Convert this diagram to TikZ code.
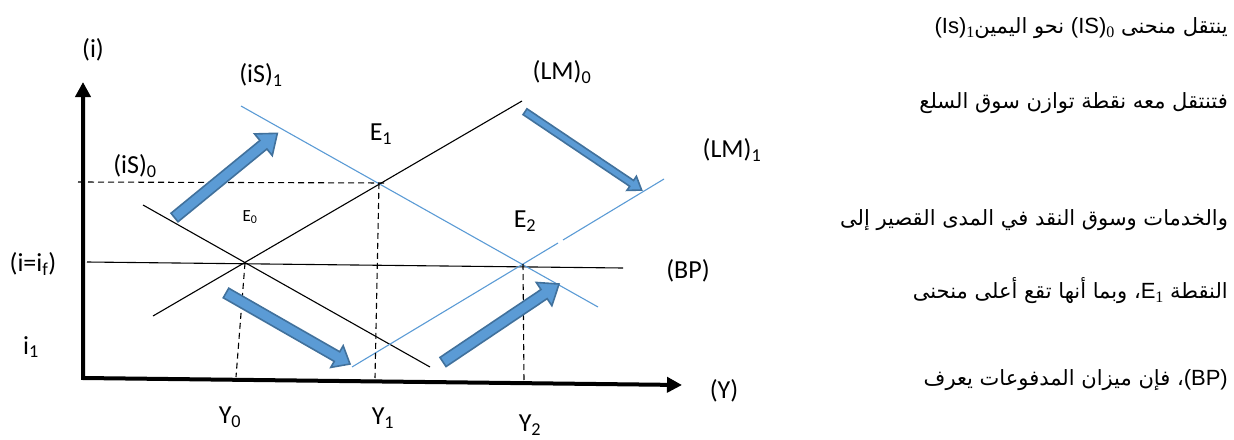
\documentclass[tikz,border=0pt]{standalone}
\usepackage{fontspec}
\setmainfont{Carlito}
\newfontfamily\arabicfont[Script=Arabic]{DejaVu Sans}
\newfontfamily\arlatin{Liberation Sans}
\newfontfamily\arserif{Liberation Serif}
\TeXXeTstate=1
\usetikzlibrary{arrows.meta}
\definecolor{lineblue}{HTML}{5B9BD5}
\definecolor{arrfill}{HTML}{5B9BD5}
\definecolor{arrdraw}{HTML}{41719C}
\newcommand\arsub[1]{\raisebox{-0.35ex}{\arserif\fontsize{16}{16}\selectfont #1}}
\newcommand\arlat[1]{{\arlatin\fontsize{22}{25}\selectfont #1}}
\newcommand\blockarrow[7]{%
  \begin{scope}[shift={(#1,#2)},rotate=#3]
    \draw[barrow] (0,#5) -- ({#4-#7},#5) -- ({#4-#7},#6) -- (#4,0)
      -- ({#4-#7},-#6) -- ({#4-#7},-#5) -- (0,-#5) -- cycle;
  \end{scope}}
\tikzset{
  axis/.style={line width=4pt, line join=miter,
    {Triangle[width=15pt,length=15pt]}-{Triangle[width=15pt,length=15pt]}},
  curve/.style={line width=1.1pt, black},
  bcurve/.style={line width=1.1pt, lineblue},
  guide/.style={line width=1.1pt, dash pattern=on 6pt off 4pt},
  lbl/.style={inner sep=0pt, font=\fontsize{26}{30}\selectfont},
  smalllbl/.style={inner sep=0pt, font=\fontsize{17}{20}\selectfont},
  arab/.style={inner sep=0pt, anchor=base east, font=\fontsize{21}{25}\selectfont\arabicfont},
  barrow/.style={fill=arrfill, draw=arrdraw, line width=1.6pt, line join=miter},
}
\begin{document}
\begin{tikzpicture}[x=1pt,y=-1pt]
\useasboundingbox (0,0) rectangle (1234,439);
% key points
\coordinate (O) at (83,378);
\coordinate (ytip) at (83,82);
\coordinate (xtip) at (682,385);
\coordinate (E0) at (245,263);
\coordinate (E1) at (379,183);
\coordinate (E2) at (523,264);
\coordinate (is0a) at (143,205);
\coordinate (is0b) at (430,367);
\coordinate (lm0a) at (153,316);
\coordinate (lm0b) at (522,101);
\coordinate (is1a) at (241,106);
\coordinate (is1b) at (598,307);
\coordinate (lm1a) at (352,367);
\coordinate (lm1g1) at (558,243);
\coordinate (lm1g2) at (563,240);
\coordinate (lm1b) at (664,179);
\coordinate (bpa) at (87,262);
\coordinate (bpb) at (623,268);
\coordinate (hda) at (78,182);
\coordinate (hdb) at (387,183);
\coordinate (y0f) at (236,377);
\coordinate (y1f) at (375,378);
\coordinate (y2f) at (524,382);
% axes
\draw[axis] (ytip) -- (O) -- (xtip);
% curves
\draw[curve] (bpa) -- (bpb);
\draw[curve] (is0a) -- (is0b);
\draw[curve] (lm0a) -- (lm0b);
\draw[bcurve] (is1a) -- (is1b);
\draw[bcurve] (lm1a) -- (lm1g1);
\draw[bcurve] (lm1g2) -- (lm1b);
% guides
\draw[guide] (hda) -- (hdb);
\draw[guide] (E1) -- (y1f);
\draw[guide] (E0) -- (y0f);
\draw[guide] (E2) -- (y2f);
% block arrows
\blockarrow{174.5}{217.5}{39.3}{132.9}{5.5}{14}{18}
\blockarrow{226}{293}{-29.8}{142.9}{5.5}{12.5}{15}
\blockarrow{525}{111.7}{-33.9}{140.5}{3.5}{8.5}{12}
\blockarrow{443}{362}{33.9}{139.8}{5.5}{14}{18}
% labels
\node[lbl] (li) at (93,50) {(i)};
\node[lbl] (liS1) at (261,75) {(iS)\textsubscript{1}};
\node[lbl] (liS0) at (135,166) {(iS)\textsubscript{0}};
\node[lbl] (lE1) at (381,134) {E\textsubscript{1}};
\node[smalllbl] (lE0) at (250,217) {E\textsubscript{0}};
\node[lbl] (lLM0) at (562,72) {(LM)\textsubscript{0}};
\node[lbl] (lE2) at (525,221) {E\textsubscript{2}};
\node[lbl] (lLM1) at (732,150) {(LM)\textsubscript{1}};
\node[lbl] (lif) at (33,264) {(i=i\textsubscript{f})};
\node[lbl] (li1) at (31,347) {i\textsubscript{1}};
\node[lbl] (lY0) at (230,417) {Y\textsubscript{0}};
\node[lbl] (lY1) at (383,418) {Y\textsubscript{1}};
\node[lbl] (lY2) at (530,425) {Y\textsubscript{2}};
\node[lbl] (lBP) at (688,271) {(BP)};
\node[lbl] (lY) at (724,391) {(Y)};
% Arabic text
\node[arab] (t1) at (1228,33) {\beginR ينتقل منحنى \arsub{0}\beginL\arlat{(IS)}\endL{} نحو اليمين\arsub{1}\beginL\arlat{(Is)}\endL\endR};
\node[arab] (t2) at (1228,108) {\beginR فتنتقل معه نقطة توازن سوق السلع\endR};
\node[arab] (t3) at (1228,225) {\beginR والخدمات وسوق النقد في المدى القصير إلى\endR};
\node[arab] (t4) at (1228,298) {\beginR النقطة \beginL\arlat{E}\arsub{1}\endL، وبما أنها تقع أعلى منحنى\endR};
\node[arab] (t5) at (1228,385) {\beginR\beginL\arlat{(BP)}\endL، فإن ميزان المدفوعات يعرف\endR};
\end{tikzpicture}
\end{document}
